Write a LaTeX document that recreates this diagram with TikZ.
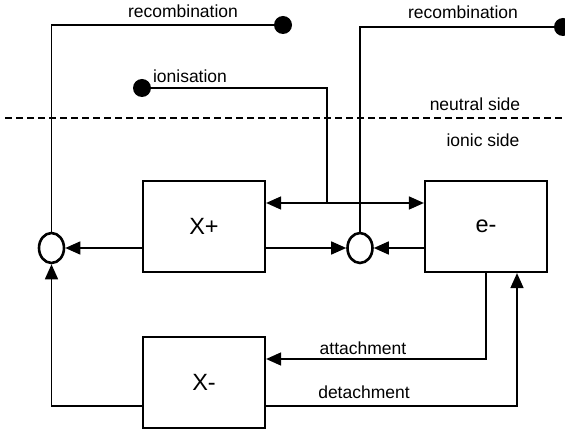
\documentclass[tikz,border=0pt]{standalone}
\usepackage{fontspec}
\setmainfont{Liberation Sans}
\usetikzlibrary{arrows.meta,shapes.geometric}

\begin{document}
\begin{tikzpicture}[x=1pt, y=-1pt,
    >={Triangle[length=15pt, width=13pt]},
    block/.style={draw, line width=2.2pt, minimum width=122pt, minimum height=91pt,
                  font=\fontsize{23.5}{26}\selectfont},
    summer/.style={draw, ellipse, line width=2.6pt, minimum width=25pt, minimum height=30pt, inner sep=0pt},
    dot/.style={fill, circle, minimum size=18pt, inner sep=0pt},
    flow/.style={line width=1.6pt},
    tag/.style={font=\fontsize{17.5}{20}\selectfont}]
    \useasboundingbox (0,0) rectangle (565,430);

    % Draw the three populations
    \node[block] (xp) at (204,226.5) {X+};
    \node[block] (em) at (486,226.5) {e-};
    \node[block] (xm) at (204,382.5) {X-};

    % Draw the two summing points
    \node[summer] (sl) at (51.5,248) {};
    \node[summer] (sm) at (360,248) {};

    % Draw the end dots of the neutral side
    \node[dot] (rl) at (283,25) {};
    \node[dot] (rr) at (563,27) {};
    \node[dot] (io) at (142,88) {};

    % Helper points for the branches
    \coordinate (jn) at (327,203);
    \coordinate (att) at (363,359);
    \coordinate (det) at (517,406);

    % Draw the dashed border between the two sides, labeled
    \draw[line width=2.7pt, dash pattern=on 7pt off 4pt] (5,118) -- (565,118);
    \node[tag] (ns) at (475,104) {neutral side};
    \node[tag] (is) at (483,140) {ionic side};

    % Draw the recombination lines
    \draw[flow] (sl.north) |- (rl);
    \node[tag] (rtl) at (183,11) {recombination};
    \draw[flow] (sm.north) |- (rr);
    \node[tag] (rtr) at (463,12) {recombination};

    % Draw the ionisation line and the double arrow
    \draw[flow] (io) -| (jn);
    \node[tag] (it) at (190,76) {ionisation};
    \draw[flow, <->] (jn -| xp.east) -- (jn -| em.west);

    % Draw the arrows into the summing points
    \draw[flow, ->] (sl -| xp.west) -- (sl.east);
    \draw[flow, ->] (sm -| xp.east) -- (sm.west);
    \draw[flow, ->] (sm -| em.west) -- (sm.east);
    \draw[flow, ->] (xm.west |- det) -| (sl.south);

    % Draw attachment and detachment
    \draw[flow, ->] (em.south) |- (att -| xm.east);
    \node[tag] (at) at (363,348) {attachment};
    \draw[flow, ->] (xm.east |- det) -- (det) -- (det |- em.south);
    \node[tag] (dt) at (364,392) {detachment};
\end{tikzpicture}
\end{document}
